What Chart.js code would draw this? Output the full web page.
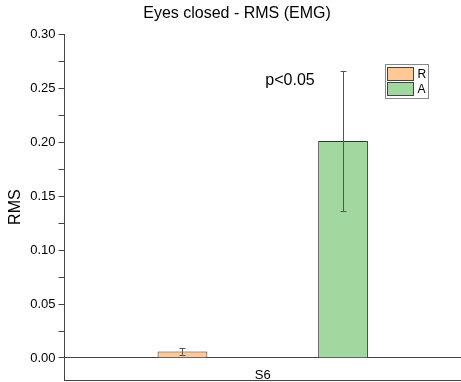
<!DOCTYPE html>
<html>
<head>
<meta charset="utf-8">
<script src="https://cdn.jsdelivr.net/npm/chart.js@4/dist/chart.umd.min.js"></script>
<style>
  html, body { margin: 0; padding: 0; background: #fff; overflow: hidden; }
  canvas { display: block; }
</style>
</head>
<body>
<canvas id="rmsChart" width="461" height="382"></canvas>
<script>
// Values
const categories = ["S6"];
const seriesNames = ["R", "A"];
const rValues = [0.006];
const rErrors = [0.003];
const aValues = [0.201];
const aErrors = [0.065];
const majorTicks = [0.00, 0.05, 0.10, 0.15, 0.20, 0.25, 0.30];
const minorTicks = [0.025, 0.075, 0.125, 0.175, 0.225, 0.275];

const axisColor = "#444";
const font = "Arial, 'Liberation Sans', sans-serif";

// Draws the error bars on top of each bar
const errorBars = {
    id: "errorBars",
    afterDatasetsDraw(chart) {
        const ctx = chart.ctx;
        const y = chart.scales.y;
        ctx.save();
        ctx.strokeStyle = "#555";
        ctx.lineWidth = 1;
        chart.data.datasets.forEach((ds, i) => {
            const meta = chart.getDatasetMeta(i);
            meta.data.forEach((bar, j) => {
                const v = ds.data[j];
                const e = ds.errors[j];
                const top = y.getPixelForValue(v + e);
                const bot = y.getPixelForValue(v - e);
                const x = Math.round(bar.x) + 0.5;
                ctx.beginPath();
                ctx.moveTo(x, top); ctx.lineTo(x, bot);
                ctx.moveTo(x - 3, Math.round(top) + 0.5); ctx.lineTo(x + 3, Math.round(top) + 0.5);
                ctx.moveTo(x - 3, Math.round(bot) + 0.5); ctx.lineTo(x + 3, Math.round(bot) + 0.5);
                ctx.stroke();
            });
        });
        ctx.restore();
    }
};

// p-value label, bottom frame line and the boxed legend inside the plot
const extras = {
    id: "extras",
    afterDraw(chart) {
        const ctx = chart.ctx;
        const area = chart.chartArea;
        const y = chart.scales.y;
        ctx.save();
        ctx.strokeStyle = axisColor;
        ctx.lineWidth = 1;
        ctx.beginPath();
        ctx.moveTo(area.left, Math.round(area.bottom) + 0.5);
        ctx.lineTo(area.right, Math.round(area.bottom) + 0.5);
        ctx.stroke();

        ctx.fillStyle = "#000";
        ctx.font = "16px " + font;
        ctx.textAlign = "center";
        ctx.textBaseline = "middle";
        ctx.fillText("p<0.05", 290, y.getPixelForValue(0.257));

        // legend box
        const lx = 385.5, ly = 64.5;
        ctx.strokeStyle = "#888";
        ctx.strokeRect(lx, ly, 43, 34);
        ctx.font = "12px " + font;
        ctx.textAlign = "left";
        chart.data.datasets.forEach((ds, i) => {
            const sy = ly + 3 + i * 15;
            ctx.fillStyle = ds.backgroundColor;
            ctx.fillRect(lx + 2, sy, 26, 13);
            ctx.strokeStyle = "#444";
            ctx.strokeRect(lx + 2, sy, 26, 13);
            ctx.fillStyle = "#000";
            ctx.fillText(ds.label, lx + 32, sy + 7);
        });
        ctx.restore();
    }
};

const rmsChart = new Chart(document.getElementById("rmsChart"), {
    type: "bar",
    data: {
        labels: categories,
        datasets: [{
            label: seriesNames[0],
            data: rValues,
            errors: rErrors,
            backgroundColor: "#FFC896",
            borderColor: "#333",
            borderWidth: 1
        }, {
            label: seriesNames[1],
            data: aValues,
            errors: aErrors,
            backgroundColor: "#A0D8A0",
            borderColor: "#333",
            borderWidth: 1
        }]
    },
    options: {
        responsive: false,
        animation: false,
        categoryPercentage: 0.81,
        barPercentage: 0.31,
        // plot runs a little past the right edge of the picture
        layout: { padding: { top: 0, right: -7, bottom: 2, left: 6 } },
        plugins: {
            legend: { display: false },
            tooltip: { enabled: false },
            title: {
                display: true,
                text: "Eyes closed - RMS (EMG)",
                color: "#000",
                font: { family: font, size: 16, weight: "normal" },
                padding: { top: 4, bottom: 11 }
            }
        },
        scales: {
            x: {
                position: { y: 0 },
                grid: { display: false },
                border: { color: axisColor, width: 1 },
                ticks: { color: "#000", font: { family: font, size: 13 }, padding: 2 }
            },
            y: {
                min: -0.0204,
                max: 0.30,
                afterBuildTicks(scale) {
                    scale.ticks = majorTicks.concat(minorTicks).map(v => ({ value: v }));
                },
                // the 0.00 label sits well above the bottom, no need to reserve room for it
                afterFit(scale) { scale.paddingBottom = 0; },
                grid: {
                    drawOnChartArea: false,
                    tickLength: 6,
                    tickColor: axisColor
                },
                border: { color: axisColor, width: 1 },
                ticks: {
                    color: "#000",
                    font: { family: font, size: 13 },
                    padding: 3,
                    callback: v => majorTicks.some(m => Math.abs(m - v) < 1e-9) ? v.toFixed(2) : ""
                },
                title: {
                    display: true,
                    text: "RMS",
                    color: "#000",
                    font: { family: font, size: 16 },
                    padding: { top: 0, bottom: 2 }
                }
            }
        }
    },
    plugins: [errorBars, extras]
});
</script>
</body>
</html>
